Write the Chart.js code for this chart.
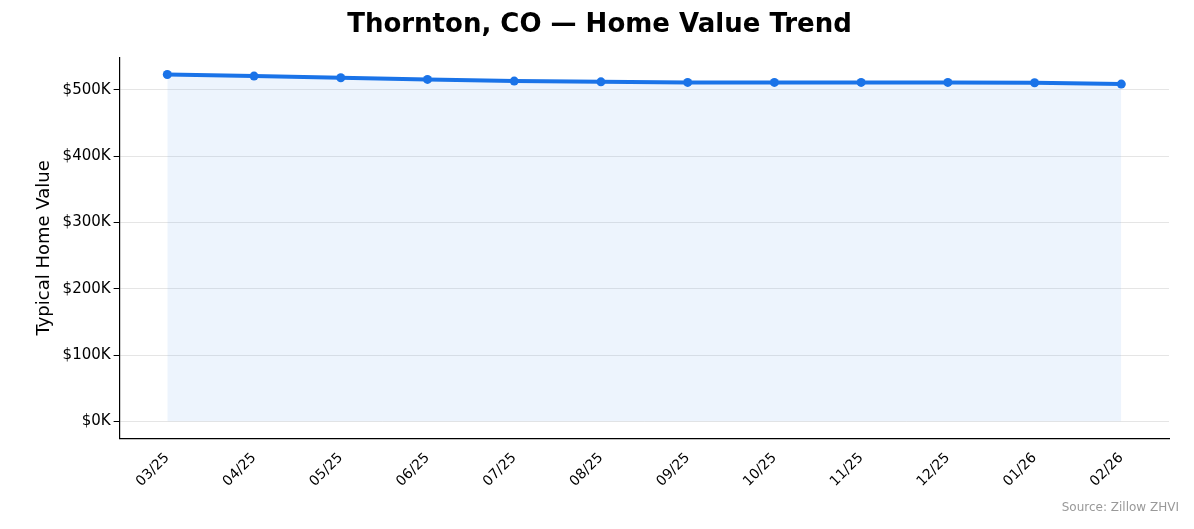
<!DOCTYPE html>
<html>
<head>
<meta charset="utf-8">
<script src="https://cdn.jsdelivr.net/npm/chart.js@4"></script>
<style>
  html, body { margin: 0; padding: 0; background: #fff; }
  #wrap { position: relative; width: 1194px; height: 529px; }
  #src { position: absolute; right: 15px; bottom: 15px; font: 12px "DejaVu Sans", sans-serif; color: #999; }
</style>
</head>
<body>
<div id="wrap">
  <canvas id="chart" width="1194" height="529"></canvas>
  <div id="src">Source: Zillow ZHVI</div>
</div>
<script>
const months = ['03/25', '04/25', '05/25', '06/25', '07/25', '08/25', '09/25', '10/25', '11/25', '12/25', '01/26', '02/26'];
const homeValues = [523000, 520500, 518000, 515500, 513000, 511800, 511000, 511000, 511000, 511000, 510500, 508500];

const font = 'DejaVu Sans';

new Chart(document.getElementById('chart'), {
  type: 'line',
  data: {
    datasets: [{
      data: homeValues.map((v, i) => ({ x: i, y: v })),
      borderColor: '#1a73e8',
      backgroundColor: 'rgba(26,115,232,0.08)',
      borderWidth: 4,
      pointRadius: 4.5,
      pointBackgroundColor: '#1a73e8',
      pointBorderWidth: 0,
      fill: 'origin',
      tension: 0
    }]
  },
  options: {
    responsive: false,
    animation: false,
    layout: { padding: { left: 30, right: 25, top: 2, bottom: 36 } },
    plugins: {
      legend: { display: false },
      tooltip: { enabled: false },
      title: {
        display: true,
        text: 'Thornton, CO — Home Value Trend',
        color: '#000',
        font: { family: font, size: 26, weight: 'bold' },
        padding: { top: 8, bottom: 16 }
      }
    },
    scales: {
      x: {
        type: 'linear',
        min: -0.55,
        max: 11.55,
        afterBuildTicks: axis => { axis.ticks = months.map((m, i) => ({ value: i })); },
        ticks: {
          callback: v => months[v],
          color: '#000',
          font: { family: font, size: 14 },
          maxRotation: 45,
          minRotation: 45,
          autoSkip: false
        },
        grid: { display: false, drawTicks: true },
        border: { color: '#000', width: 1.2 }
      },
      y: {
        min: -26000,
        max: 549000,
        afterBuildTicks: axis => { axis.ticks = [0, 100000, 200000, 300000, 400000, 500000].map(v => ({ value: v })); },
        ticks: {
          callback: v => '$' + (v / 1000) + 'K',
          color: '#000',
          font: { family: font, size: 15 }
        },
        title: {
          display: true,
          text: 'Typical Home Value',
          color: '#000',
          font: { family: font, size: 18 }
        },
        grid: { color: 'rgba(0,0,0,0.1)', tickColor: '#000', tickLength: 6 },
        border: { color: '#000', width: 1.2 }
      }
    }
  }
});
</script>
</body>
</html>
